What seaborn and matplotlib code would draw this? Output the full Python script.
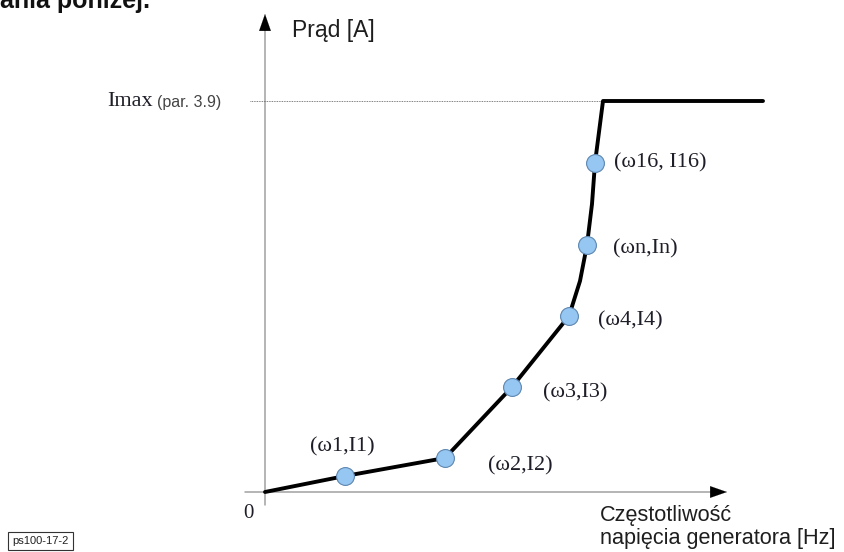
import matplotlib
matplotlib.use("Agg")
import matplotlib.pyplot as plt
import seaborn as sns
import pandas as pd

sns.set_theme(style="white")
plt.rcParams["font.family"] = ["Liberation Serif", "DejaVu Serif"]

# Characteristic curve I(omega), in drawing units (origin at axis crossing)
curve_freq = [0, 80, 180, 247, 304, 315, 322, 327, 330, 334, 338, 498]
curve_curr = [0, 16, 34, 105, 176, 211, 247, 288, 329, 360, 391, 391]

# Marked characteristic points
point_names = ["(ω1,I1)", "(ω2,I2)", "(ω3,I3)", "(ω4,I4)", "(ωn,In)", "(ω16, I16)"]
point_freq = [80, 180, 247, 304, 322, 330]
point_curr = [16, 34, 105, 176, 247, 329]

i_max = 391

curve = pd.DataFrame({"freq": curve_freq, "curr": curve_curr})
points = pd.DataFrame({"freq": point_freq, "curr": point_curr, "name": point_names})

fig = plt.figure(figsize=(8.45, 5.52), dpi=100)
ax = fig.add_axes([0, 0, 1, 1])

# Axes with arrow heads
axis_col = "#a0a0a0"
ax.plot([0, 0], [-13, 466], color=axis_col, lw=1.1, zorder=1)
ax.plot([-20, 452], [0, 0], color=axis_col, lw=1.1, zorder=1)
ax.annotate("", xy=(0, 478), xytext=(0, 462),
            arrowprops=dict(arrowstyle="-|>,head_length=1.0,head_width=0.35",
                            color="black", lw=0.1, shrinkA=0, shrinkB=0))
ax.annotate("", xy=(462, 0), xytext=(446, 0),
            arrowprops=dict(arrowstyle="-|>,head_length=1.0,head_width=0.35",
                            color="black", lw=0.1, shrinkA=0, shrinkB=0))

# Imax reference line
ax.plot([-15, curve_freq[-2]], [i_max, i_max], color="#555555", lw=0.6,
        ls=(0, (1, 1)), zorder=1)

# Characteristic
sns.lineplot(data=curve, x="freq", y="curr", sort=False, ax=ax,
             color="black", lw=2.8, zorder=3, legend=False)
sns.scatterplot(data=points, x="freq", y="curr", ax=ax, s=165,
                color="#96c6f2", edgecolor="#5d86b0", linewidth=0.8,
                zorder=4, legend=False)
ax.set_xlim(-265, 580)
ax.set_ylim(-60, 492)
ax.set_xlabel("")
ax.set_ylabel("")
ax.axis("off")

label_offsets = [(-35, 29), (43, -8), (31, -6), (29, -5), (26, -4), (19, 0)]
for nm, fx, cy, (dx, dy) in zip(point_names, point_freq, point_curr, label_offsets):
    ax.text(fx + dx, cy + dy, nm, fontsize=16, color="#1e1e28",
            va="center", ha="left")

# Axis texts
ax.text(-17, -22, "0", fontsize=15, color="#1e1e28", va="center", ha="center")
ax.text(-158, i_max, "Imax", fontsize=16, color="#1e1e28", va="center", ha="left")
ax.text(-108, i_max - 1, "(par. 3.9)", fontsize=11.5,
        family=["Liberation Sans", "DejaVu Sans"], color="#444444",
        va="center", ha="left")
ax.text(27, 461, "Prąd [A]", fontsize=16.5, family=["Liberation Sans", "DejaVu Sans"],
        color="#1e1e1e", va="center", ha="left")
ax.text(335, -35, "Częstotliwość\nnapięcia generatora [Hz]", fontsize=15.6,
        family=["Liberation Sans", "DejaVu Sans"], color="#1e1e1e",
        va="center", ha="left", linespacing=1.1)

# Drawing id tag
ax.text(-253, -49, "ps100-17-2", fontsize=8,
        family=["Liberation Sans", "DejaVu Sans"], color="#222222",
        va="center", ha="left",
        bbox=dict(boxstyle="square,pad=0.4", fc="white", ec="#333333", lw=0.8))

# Caption text from the surrounding page, cut by the top edge
ax.text(-265, 484, "ania poniżej.", fontsize=18, fontweight="bold",
        family=["Liberation Sans", "DejaVu Sans"], color="#111111",
        va="baseline", ha="left")

fig.savefig("out.png", dpi=100)
